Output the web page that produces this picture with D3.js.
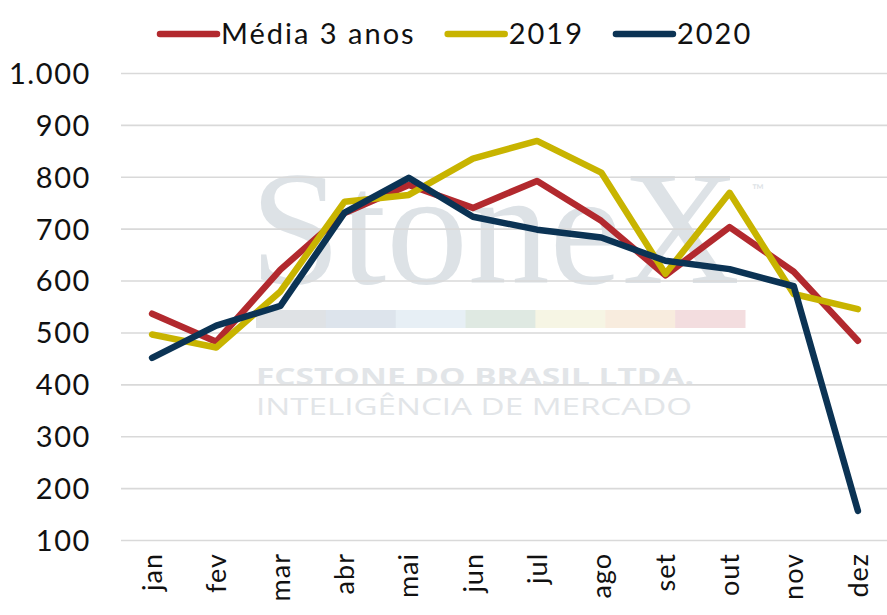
<!DOCTYPE html>
<html><head><meta charset="utf-8">
<script src="https://cdn.jsdelivr.net/npm/d3@7"></script>
<style>body{margin:0;background:#fff}svg{display:block}</style>
</head><body>
<svg id="chart" width="887" height="615"></svg>
<script>
const months = ["jan","fev","mar","abr","mai","jun","jul","ago","set","out","nov","dez"];
const media3 = [537, 483, 622, 731, 785, 741, 793, 716, 611, 704, 618, 485];
const s2019 = [497, 472, 580, 753, 766, 836, 870, 809, 614, 770, 575, 546];
const s2020 = [452, 514, 552, 732, 799, 724, 699, 684, 639, 623, 590, 157];
const yTicks = [100,200,300,400,500,600,700,800,900,1000];
const seriesNames = ["Média 3 anos","2019","2020"];
const seriesColors = ["#B2292E","#C8B400","#0B3354"];
const series = [media3, s2019, s2020];

const svg = d3.select("#chart");
const font = "Lato, 'Open Sans', sans-serif";
const x = d3.scalePoint().domain(months).range([120, 890]).padding(0.5);
const y = d3.scaleLinear().domain([100, 1000]).range([540.5, 73.5]);
const fmt = d3.formatLocale({decimal:",", thousands:".", grouping:[3], currency:["",""]}).format(",");

// watermark
const wm = svg.append("g");
wm.append("text").attr("x",250).attr("y",283).attr("font-family","'Liberation Serif', 'DejaVu Serif', serif")
  .attr("font-size",163).attr("fill","#dde2e6").attr("textLength",490).attr("lengthAdjust","spacingAndGlyphs").text("StoneX");
wm.append("text").attr("x",752).attr("y",196).attr("font-family","Lato, sans-serif")
  .attr("font-size",16).attr("fill","#dde2e6").text("™");
const barCols = ["#dfe2e5","#dde4ec","#e7eff5","#dfe9e2","#f6f5e4","#f8ecde","#f3dddf"];
const bx = d3.scaleBand().domain(d3.range(7)).range([256, 745]);
wm.selectAll("rect").data(barCols).join("rect").attr("x",(d,i)=>bx(i)).attr("y",310)
  .attr("width",bx.bandwidth()+0.5).attr("height",18).attr("fill",d=>d);
wm.append("text").attr("x",256).attr("y",385).attr("font-family","'Open Sans', sans-serif").attr("font-weight",700)
  .attr("font-size",23).attr("fill","#e2e5e8").attr("textLength",438).attr("lengthAdjust","spacingAndGlyphs").text("FCSTONE DO BRASIL LTDA.");
wm.append("text").attr("x",256).attr("y",415).attr("font-family","'Open Sans', sans-serif").attr("font-weight",400)
  .attr("font-size",23).attr("fill","#e2e5e8").attr("textLength",436).attr("lengthAdjust","spacingAndGlyphs").text("INTELIGÊNCIA DE MERCADO");

// gridlines
svg.append("g").selectAll("line").data(yTicks).join("line")
  .attr("x1",121).attr("x2",887).attr("y1",d=>y(d)).attr("y2",d=>y(d))
  .attr("stroke","#d9d9d9").attr("stroke-width",1.6);

// y labels
svg.append("g").selectAll("text").data(yTicks).join("text")
  .attr("x",91).attr("y",d=>y(d)).attr("dy","0.36em").attr("text-anchor","end")
  .attr("font-family",font).attr("font-size",29).attr("letter-spacing",1.6).attr("fill","#111").text(d=>fmt(d));

// x labels
svg.append("g").selectAll("text").data(months).join("text")
  .attr("transform",d=>`translate(${x(d)},553) rotate(-90)`).attr("dy","0.36em").attr("text-anchor","end")
  .attr("font-family",font).attr("font-size",27).attr("letter-spacing",1).attr("fill","#111").text(d=>d);

// lines
const line = d3.line().x((d,i)=>x(months[i])).y(d=>y(d));
svg.append("g").selectAll("path").data(series).join("path")
  .attr("d",line).attr("fill","none").attr("stroke",(d,i)=>seriesColors[i])
  .attr("stroke-width",6.5).attr("stroke-linejoin","round").attr("stroke-linecap","round");

// legend
const lg = svg.append("g");
let lx = 160;
seriesNames.forEach((n,i)=>{
  lg.append("line").attr("x1",lx).attr("x2",lx+57).attr("y1",34).attr("y2",34)
    .attr("stroke",seriesColors[i]).attr("stroke-width",6.5).attr("stroke-linecap","round");
  const t = lg.append("text").attr("x",lx+61).attr("y",34).attr("dy","0.36em")
    .attr("font-family",font).attr("font-size",29).attr("letter-spacing",2).attr("fill","#111").text(n);
  lx += 61 + t.node().getComputedTextLength() + 32;
});
</script>
</body></html>
